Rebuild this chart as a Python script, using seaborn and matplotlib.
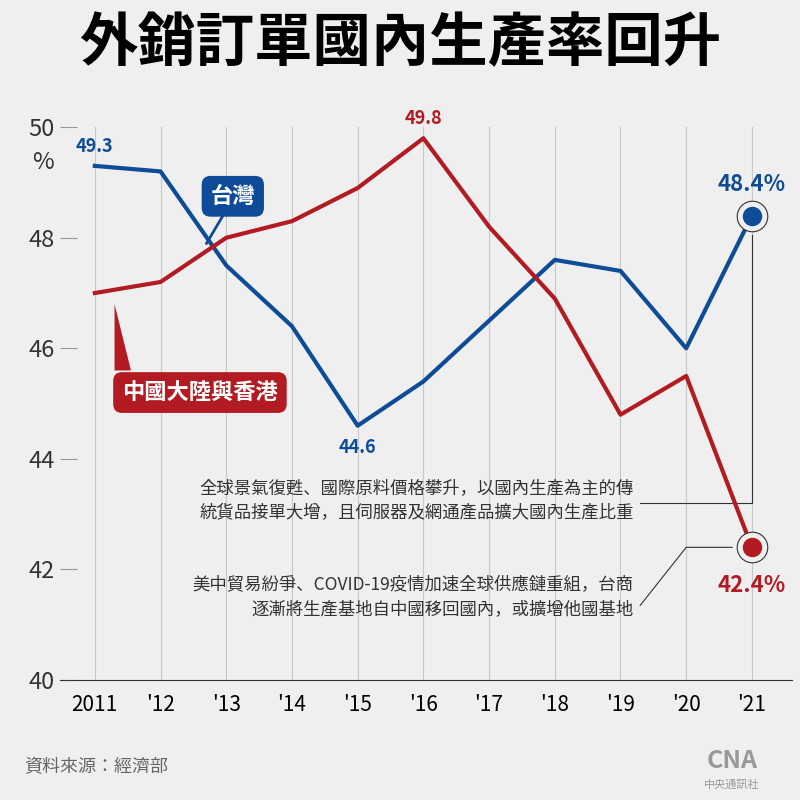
import numpy as np
import matplotlib.pyplot as plt
import seaborn as sns
import pandas as pd

plt.rcParams["font.family"] = ["Noto Sans CJK JP", "Noto Sans CJK TC", "Noto Sans CJK SC", "DejaVu Sans"]

years = [2011, 2012, 2013, 2014, 2015, 2016, 2017, 2018, 2019, 2020, 2021]
year_labels = ["2011", "'12", "'13", "'14", "'15", "'16", "'17", "'18", "'19", "'20", "'21"]
taiwan = [49.3, 49.2, 47.5, 46.4, 44.6, 45.4, 46.5, 47.6, 47.4, 46.0, 48.4]
china = [47.0, 47.2, 48.0, 48.3, 48.9, 49.8, 48.2, 46.9, 44.8, 45.5, 42.4]
y_ticks = [40, 42, 44, 46, 48, 50]

BLUE = "#0f4c97"
RED = "#b31b22"
BG = "#efefef"

df = pd.DataFrame({"year": years * 2, "value": taiwan + china,
                   "series": ["台灣"] * len(years) + ["中國大陸與香港"] * len(years)})

fig = plt.figure(figsize=(8, 8), dpi=100, facecolor=BG)
ax = fig.add_axes([0.075, 0.15, 0.915, 0.691])
ax.set_facecolor(BG)

for x in years:
    ax.axvline(x, color="#c8c8c8", lw=0.8, zorder=0)
sns.lineplot(data=df, x="year", y="value", hue="series",
             palette={"台灣": BLUE, "中國大陸與香港": RED}, lw=3, legend=False, ax=ax, zorder=3)

ax.set_xlim(2011 - 0.53, 2021 + 0.61)
ax.set_ylim(40, 50)
ax.set_xticks(years)
ax.set_xticklabels(year_labels, fontsize=15)
ax.set_yticks(y_ticks)
ax.set_yticklabels([str(v) for v in y_ticks], fontsize=17, color="#333333")
ax.tick_params(axis="y", length=12, color="#999999", pad=4, direction="in")
ax.tick_params(axis="x", length=0, pad=10)
for s in ["top", "right", "left"]:
    ax.spines[s].set_visible(False)
ax.spines["bottom"].set_color("#333333")
ax.set_xlabel("")
ax.set_ylabel("")
ax.text(2011 - 0.95, 49.25, "%", fontsize=17, color="#333333")

# value labels
ax.text(2011, 49.55, "49.3", color=BLUE, fontsize=13, fontweight="bold", ha="center")
ax.text(2015, 44.1, "44.6", color=BLUE, fontsize=13, fontweight="bold", ha="center")
ax.text(2016, 50.05, "49.8", color=RED, fontsize=13, fontweight="bold", ha="center")
ax.text(2021, 48.85, "48.4%", color=BLUE, fontsize=16, fontweight="bold", ha="center")
ax.text(2021, 41.6, "42.4%", color=RED, fontsize=16, fontweight="bold", ha="center")

# end markers
for v, c in [(48.4, BLUE), (42.4, RED)]:
    ax.plot(2021, v, "o", ms=22, mfc=BG, mec="#333333", mew=0.8, zorder=4)
    ax.plot(2021, v, "o", ms=13, color=c, zorder=5)

# series labels
ax.text(2013.1, 48.75, "台灣", color="white", fontsize=16, fontweight="bold",
        ha="center", va="center", bbox=dict(boxstyle="round,pad=0.4", fc=BLUE, ec="none"))
ax.plot([2012.95, 2012.7], [48.4, 47.9], color=BLUE, lw=2)
ax.text(2012.6, 45.2, "中國大陸與香港", color="white", fontsize=16, fontweight="bold",
        ha="center", va="center", bbox=dict(boxstyle="round,pad=0.4", fc=RED, ec="none"))
ax.fill([2011.3, 2011.3, 2011.55], [45.6, 46.8, 45.6], color=RED, lw=0, zorder=2)

# callouts
ax.plot([2021, 2021, 2019.3], [48.05, 43.2, 43.2], color="#333333", lw=0.8)
ax.text(2019.2, 43.25, "全球景氣復甦、國際原料價格攀升，以國內生產為主的傳\n統貨品接單大增，且伺服器及網通產品擴大國內生產比重",
        fontsize=12.5, color="#333333", ha="right", va="center", linespacing=1.5)
ax.plot([2020.7, 2020.0, 2019.3], [42.4, 42.4, 41.35], color="#333333", lw=0.8)
ax.text(2019.2, 41.5, "美中貿易紛爭、COVID-19疫情加速全球供應鏈重組，台商\n逐漸將生產基地自中國移回國內，或擴增他國基地",
        fontsize=12.5, color="#333333", ha="right", va="center", linespacing=1.5)

fig.text(0.5, 0.945, "外銷訂單國內生產率回升", fontsize=42, fontweight="bold", ha="center", va="center")
fig.text(0.03, 0.035, "資料來源：經濟部", fontsize=13, color="#666666")
fig.text(0.915, 0.04, "CNA", fontsize=18, fontweight="bold", color="#999999", ha="center")
fig.text(0.915, 0.015, "中央通訊社", fontsize=8, color="#999999", ha="center")

fig.savefig("out.png", dpi=100, facecolor=BG)
